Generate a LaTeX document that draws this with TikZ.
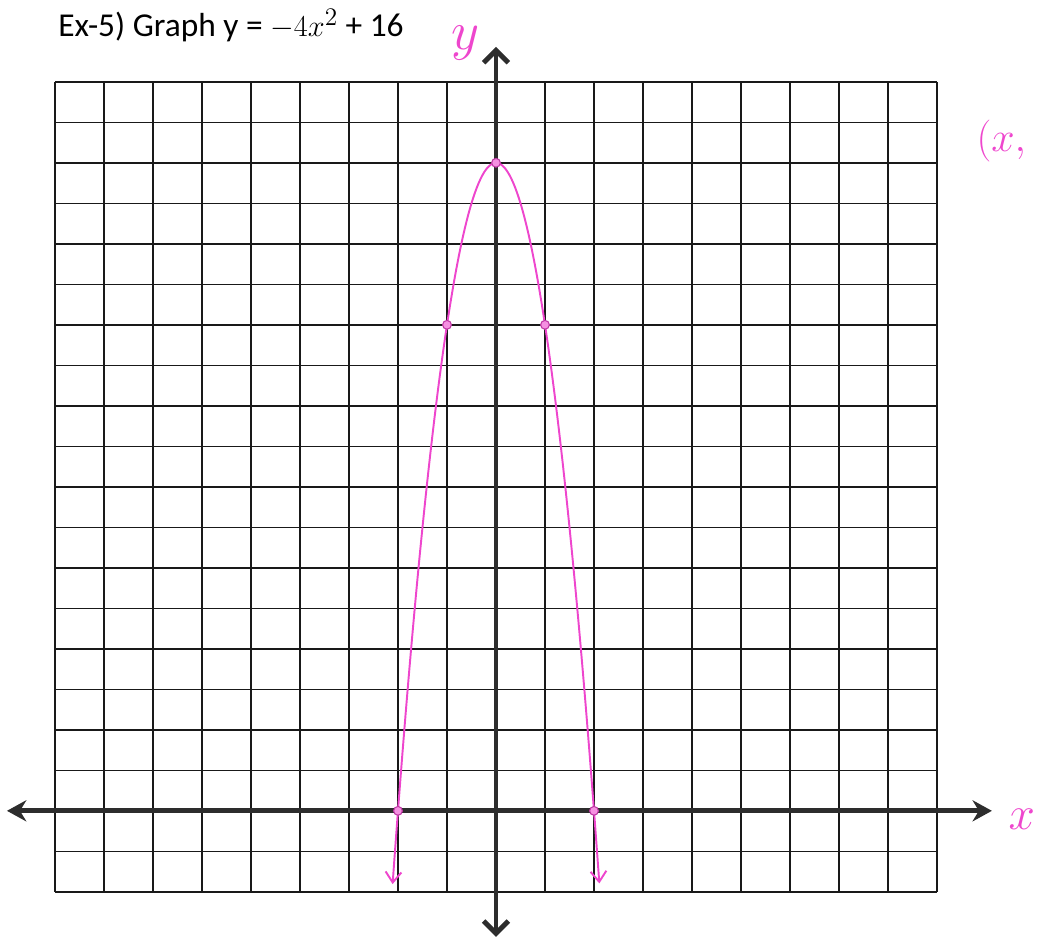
\documentclass[tikz,border=0pt]{standalone}
\usepackage{fontspec}
\setmainfont{Carlito}
\usepackage{amsmath}
\usepackage{graphicx}
\usetikzlibrary{arrows.meta}
\definecolor{penpink}{RGB}{238,70,205}
\definecolor{axisgray}{RGB}{45,45,45}

\begin{document}
\begin{tikzpicture}[
    x=0.98cm, y=0.81cm,
    gridline/.style={line width=0.9pt, black!90},
    axis/.style={line width=2.8pt, axisgray},
    curve/.style={line width=1.1pt, penpink},
    dot/.style={circle, draw=penpink!80!black, fill=penpink!60, line width=0.6pt, inner sep=0pt, minimum size=5pt},
    hand/.style={text=penpink, inner sep=0pt, font=\huge}
  ]
    \useasboundingbox (-10.122,-3.21) rectangle (11.122,20.02);
    % grid paper
    \foreach \i in {-9,...,9}
      \draw[gridline] (\i,-2) -- (\i,18);
    \foreach \j in {-2,...,18}
      \draw[gridline] (-9,\j) -- (9,\j);
    % axes
    \coordinate (xl) at (-9.98,0);
    \coordinate (xr) at (10.12,0);
    \coordinate (yb) at (0,-3.11);
    \coordinate (yt) at (0,18.86);
    \draw[axis, {Stealth[length=11pt,width=12pt]}-{Stealth[length=11pt,width=12pt]}] (xl) -- (xr);
    \draw[axis, {Straight Barb[length=7pt,width=14pt]}-{Straight Barb[length=7pt,width=14pt]}] (yb) -- (yt);
    % parabola
    \draw[curve, {Straight Barb[length=6pt,width=9pt]}-{Straight Barb[length=6pt,width=9pt]}]
      plot[domain=-2.11:2.11, samples=80, smooth] (\x, {-4*\x*\x+16});
    \node[dot] (vtx) at (0,16) {};
    \node[dot] (pl) at (-1,12) {};
    \node[dot] (pr) at (1,12) {};
    \node[dot] (zl) at (-2,0) {};
    \node[dot] (zr) at (2,0) {};
    % labels
    \node[anchor=base west, inner sep=0pt, font=\fontsize{19}{23}\selectfont] (title) at (-8.94,19.11)
      {Ex-5) Graph y = $-4x^2$ + 16};
    \node[hand] (ylab) at (-0.63,18.95) {\scalebox{1.5}{$y$}};
    \node[hand] (xlab) at (10.73,-0.2) {\scalebox{1.3}{$x$}};
    \node[hand, anchor=west] (pairlab) at (9.8,16.55) {\scalebox{1.15}{$(x,$}};
  \end{tikzpicture}
\end{document}
